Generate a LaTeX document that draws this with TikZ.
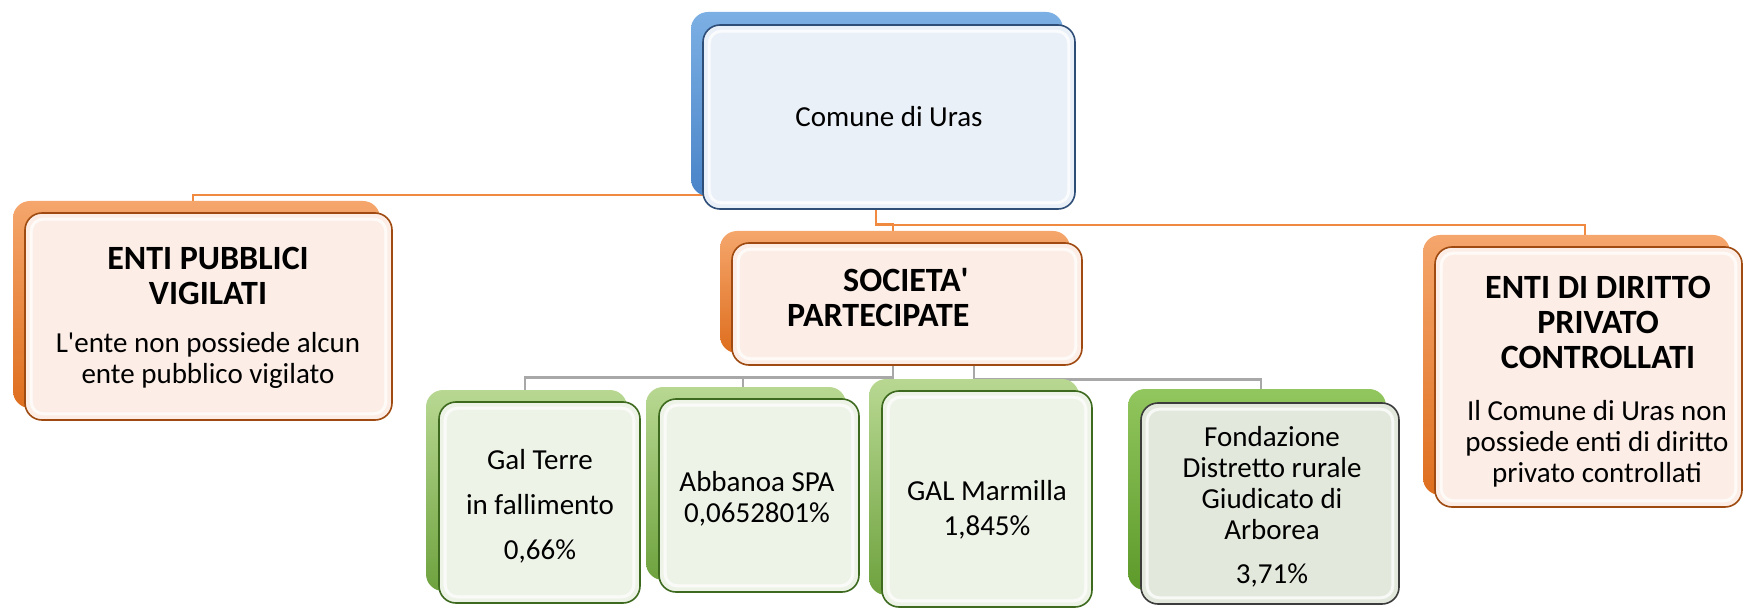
\documentclass[tikz,border=0pt]{standalone}
\usepackage{fontspec}
\setmainfont{Carlito}
\usetikzlibrary{shadows,backgrounds}
\definecolor{oline}{HTML}{F08A40}
\definecolor{gline}{HTML}{A8A8A8}
\definecolor{blueT}{HTML}{7CB0E4}
\definecolor{blueB}{HTML}{4A84C8}
\definecolor{blueF}{HTML}{EAF0F8}
\definecolor{blueD}{HTML}{2E4E78}
\definecolor{oraT}{HTML}{F5A66C}
\definecolor{oraB}{HTML}{DE6E1E}
\definecolor{oraF}{HTML}{FCEEE6}
\definecolor{oraD}{HTML}{9E4A10}
\definecolor{greT}{HTML}{B8D892}
\definecolor{greB}{HTML}{6EA23E}
\definecolor{greF}{HTML}{EEF3E8}
\definecolor{greD}{HTML}{3D6A1E}
\definecolor{fonT}{HTML}{92C65E}
\definecolor{fonB}{HTML}{5C9A2A}
\definecolor{fonF}{HTML}{E3E8DC}
\definecolor{fonD}{HTML}{3C3C3C}
\newcommand\bevel[1]{\draw[bevelst] ([shift={(7,7)}]#1.north west) rectangle ([shift={(-7,-7)}]#1.south east);}
\begin{document}
\begin{tikzpicture}[x=1pt,y=-1pt,
  box/.style={line width=1.6pt, rounded corners=17pt, inner sep=0pt},
  bluebox/.style={box, draw=blueD, fill=blueF,
    general shadow={shadow xshift=-12pt, shadow yshift=13pt, top color=blueT, bottom color=blueB}},
  orabox/.style={box, draw=oraD, fill=oraF,
    general shadow={shadow xshift=-12pt, shadow yshift=12pt, top color=oraT, bottom color=oraB}},
  grebox/.style={box, draw=greD, fill=greF,
    general shadow={shadow xshift=-13pt, shadow yshift=12pt, top color=greT, bottom color=greB}},
  fonbox/.style={box, draw=fonD, fill=fonF,
    general shadow={shadow xshift=-13pt, shadow yshift=14pt, top color=fonT, bottom color=fonB}},
  bevelst/.style={draw=white, line width=3pt, opacity=0.75, rounded corners=12pt},
  txt/.style={align=center, inner sep=0pt, font=\fontsize{29}{31}\selectfont},
  btxt/.style={align=center, inner sep=0pt, font=\fontsize{34}{35}\selectfont\bfseries},
  olink/.style={draw=oline, line width=2.2pt},
  glink/.style={draw=gline, line width=2.8pt},
]
\useasboundingbox (0,0) rectangle (1744,609);

\coordinate (epIn) at (193,201);
\coordinate (socIn) at (893,232);
\coordinate (edIn) at (1585,235);
\coordinate (gtIn) at (525,390);
\coordinate (abIn) at (743,387);
\coordinate (gmIn) at (974,379);
\coordinate (fdIn) at (1261,389);

% boxes
\node[bluebox, minimum width=372pt, minimum height=184pt] (comune) at (889,117) {};
\node[orabox, minimum width=367pt, minimum height=207pt] (ep) at (208.5,316.5) {};
\node[orabox, minimum width=350pt, minimum height=122pt] (soc) at (907,304) {};
\node[orabox, minimum width=307pt, minimum height=260pt] (ed) at (1588.5,377) {};
\node[grebox, minimum width=201pt, minimum height=201pt] (gt) at (539.5,502.5) {};
\node[grebox, minimum width=200pt, minimum height=193pt] (ab) at (759,495.5) {};
\node[grebox, minimum width=210pt, minimum height=216pt] (gm) at (987,499) {};
\node[fonbox, minimum width=258pt, minimum height=201pt] (fd) at (1270,503.5) {};

\begin{pgfonlayer}{background}
% orange connectors
\draw[olink] ([shift={(5,-15)}]comune.south west) -| (epIn);
\draw[olink] ([xshift=-13pt]comune.south) -- ++(0,14) -| (socIn);
\draw[olink] ([xshift=-13pt]comune.south) -- ++(0,15) -| (edIn);
% grey connectors
\draw[glink] ([xshift=-14pt]soc.south) -- ++(0,12) -| (gtIn);
\draw[glink] ([xshift=-14pt]soc.south) -- ++(0,12) -| (abIn);
\draw[glink] ([xshift=67pt]soc.south) -- (gmIn);
\draw[glink] ([xshift=67pt]soc.south) -- ++(0,14) -| (fdIn);
\end{pgfonlayer}

% bevels
\bevel{comune}\bevel{ep}\bevel{soc}\bevel{ed}\bevel{gt}\bevel{ab}\bevel{gm}\bevel{fd}

% texts
\node[txt] (t-comune) at (889,117) {Comune di Uras};
\node[btxt] (t-ep1) at (208,276) {ENTI PUBBLICI\\VIGILATI};
\node[txt] (t-ep2) at (208,360) {L\textquotesingle ente non possiede alcun\\ente pubblico vigilato};
\node[btxt, align=left, anchor=west] (t-soc) at (787,298) {\hspace*{56pt}SOCIETA\textquotesingle\\PARTECIPATE};
\node[btxt] (t-ed1) at (1598,322) {ENTI DI DIRITTO\\PRIVATO\\CONTROLLATI};
\node[txt] (t-ed2) at (1597,444) {Il Comune di Uras non\\possiede enti di diritto\\privato controllati};
\node[txt] (t-gt) at (540,506) {Gal Terre\\[14pt]in fallimento\\[14pt]0,66\%};
\node[txt] (t-ab) at (757,499) {Abbanoa SPA\\0,0652801\%};
\node[txt] (t-gm) at (987,510) {GAL Marmilla\\[4pt]1,845\%};
\node[txt] (t-fd) at (1272,507) {Fondazione\\Distretto rurale\\Giudicato di\\Arborea\\[13pt]3,71\%};
\end{tikzpicture}
\end{document}
